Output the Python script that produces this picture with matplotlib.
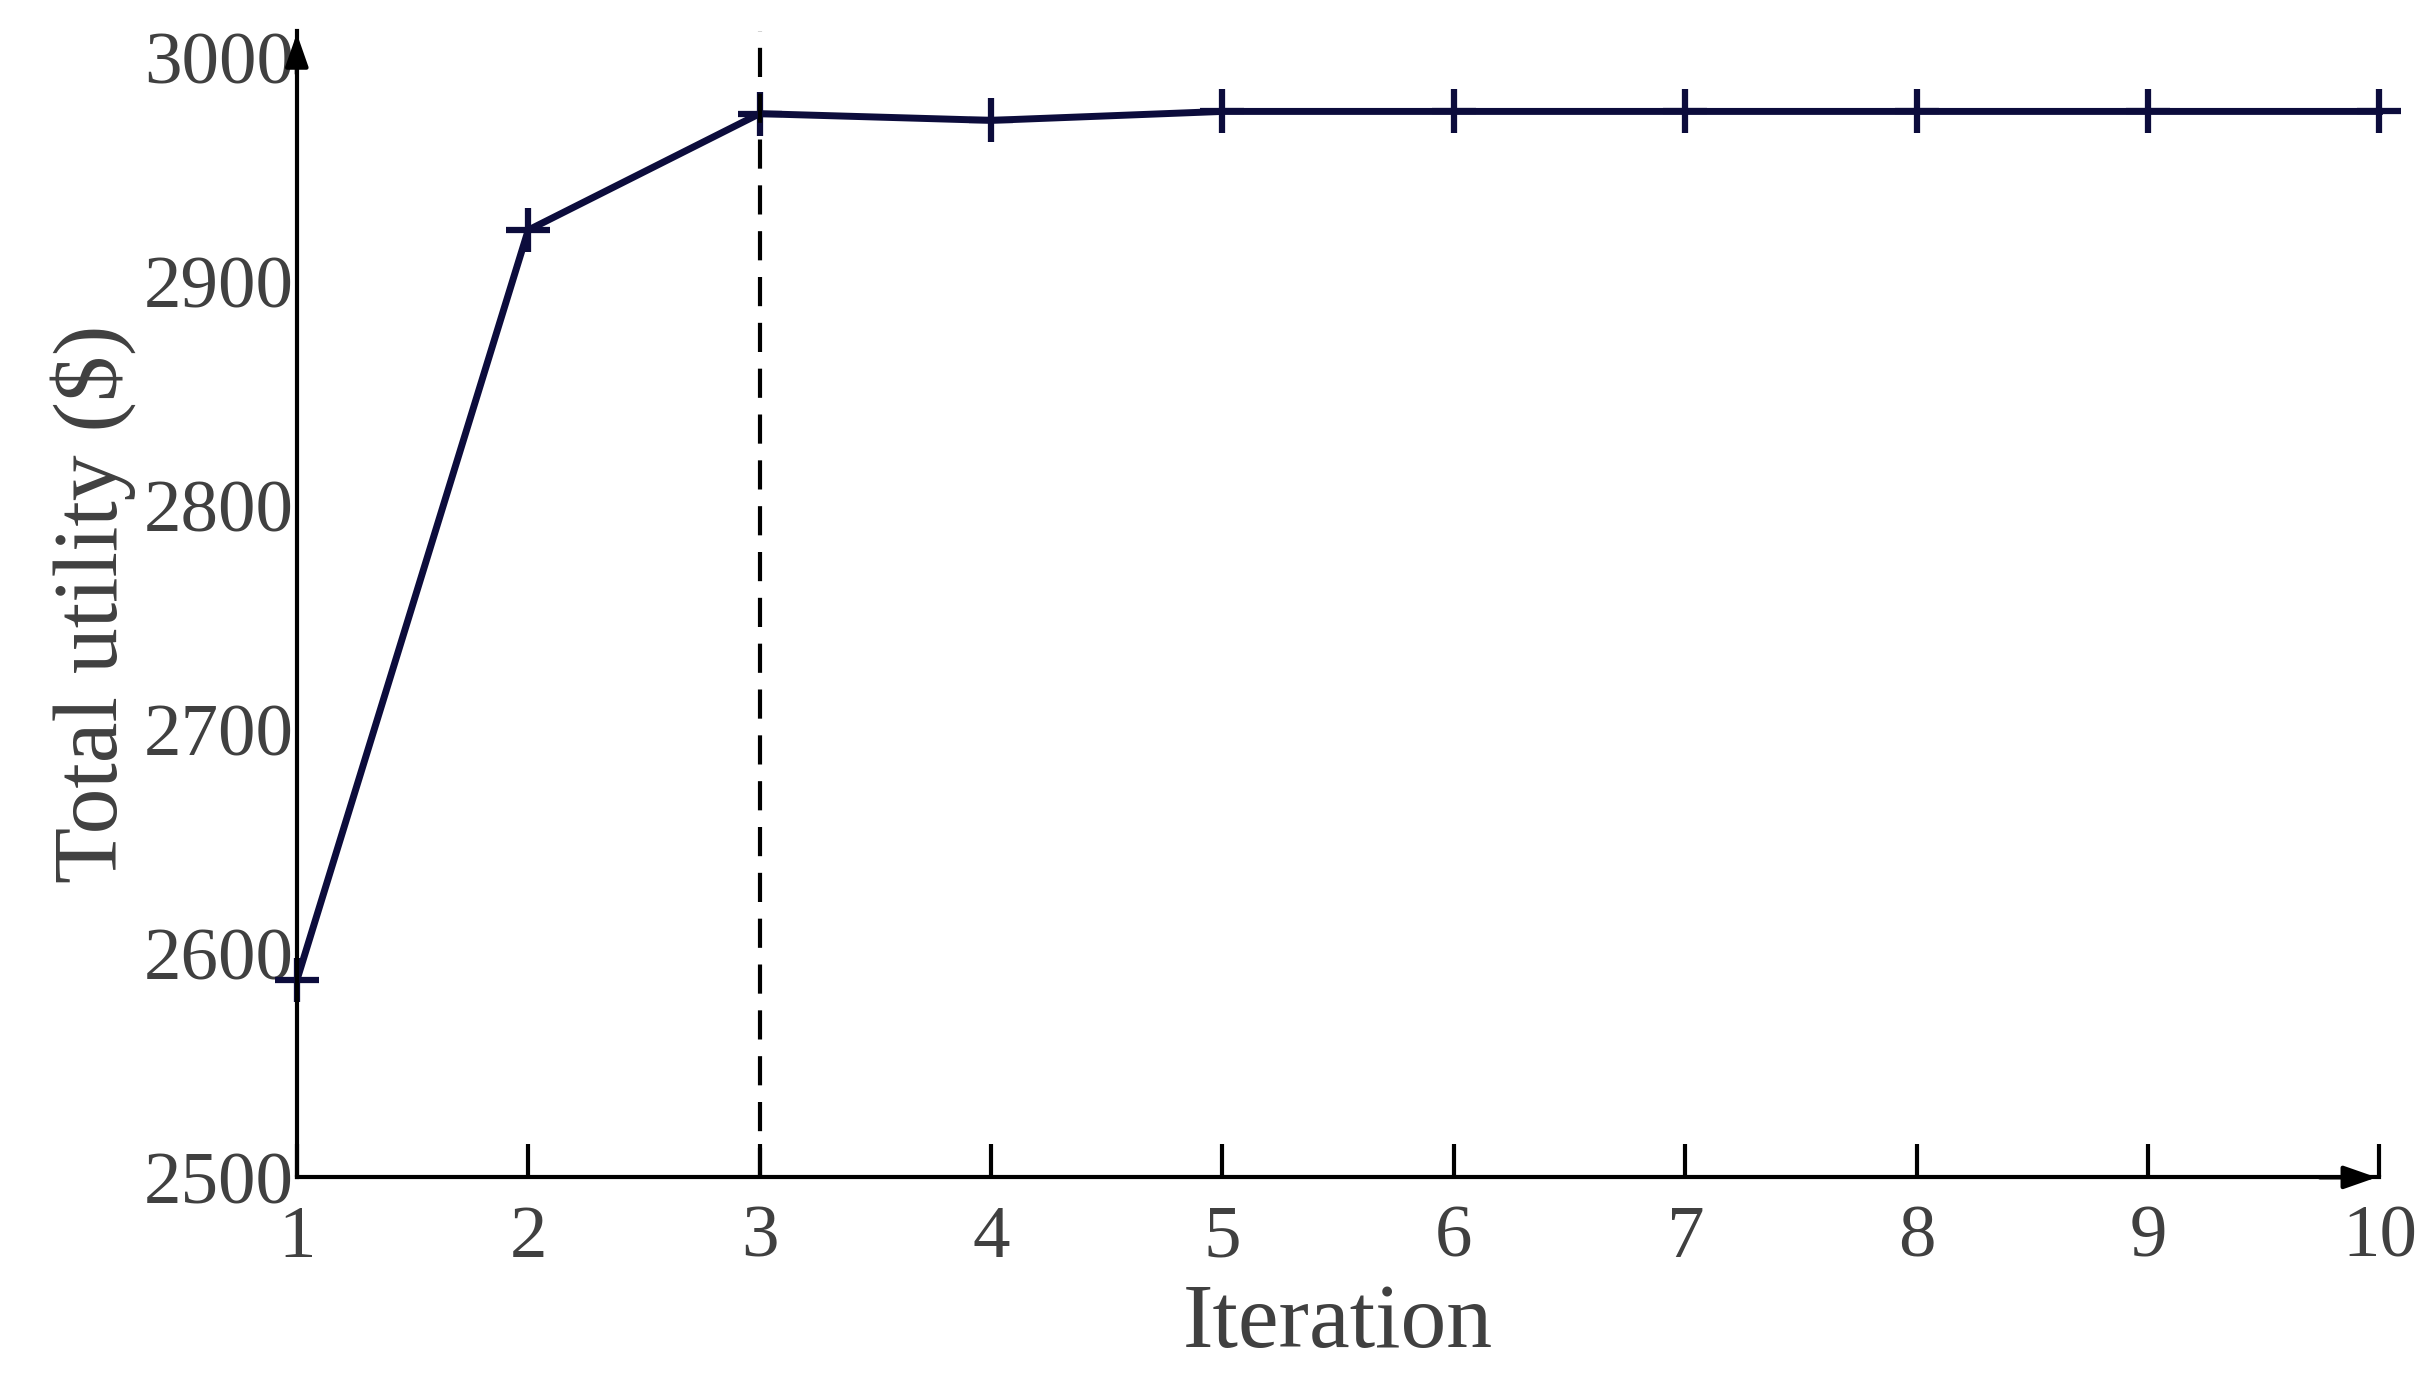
import matplotlib.pyplot as plt

iterations = [1, 2, 3, 4, 5, 6, 7, 8, 9, 10]
utility = [2588, 2923, 2975, 2972, 2976, 2976, 2976, 2976, 2976, 2976]
converge_at = 3

plt.rcParams['font.family'] = ['Liberation Serif', 'DejaVu Serif']
txt = '#404040'
line_c = '#0c0c3c'

fig = plt.figure(figsize=(24.33, 14), dpi=100)
ax = fig.add_axes([0.122, 0.159, 0.856, 0.819])
ax.plot(iterations, utility, color=line_c, lw=5, marker='+', ms=32, mew=4.5, clip_on=False)
ax.axvline(converge_at, color='black', ls=(0, (7, 4)), lw=3)

ax.set_xlim(1, 10)
ax.set_ylim(2500, 3012)
ax.set_xticks(iterations)
ax.set_yticks([2500, 2600, 2700, 2800, 2900, 3000])
for s in ['top', 'right']:
    ax.spines[s].set_visible(False)
for s in ['left', 'bottom']:
    ax.spines[s].set_linewidth(3)
ax.tick_params(axis='x', direction='in', length=24, width=3, labelsize=54, pad=20)
ax.tick_params(axis='y', length=0, labelsize=54, pad=2)
for lab in ax.get_xticklabels() + ax.get_yticklabels():
    lab.set_color(txt)

ax.annotate('', xy=(1.0, 0), xycoords='axes fraction', xytext=(0.97, 0),
            arrowprops=dict(arrowstyle='-|>,head_length=2,head_width=0.7', color='black', lw=3))
ax.annotate('', xy=(0, 1.0), xycoords='axes fraction', xytext=(0, 0.96),
            arrowprops=dict(arrowstyle='-|>,head_length=2,head_width=0.7', color='black', lw=3))

ax.set_xlabel('Iteration', fontsize=66, color=txt, labelpad=8)
ax.set_ylabel('Total utility ($)', fontsize=66, color=txt, labelpad=6)

fig.savefig('out.png', dpi=100)
